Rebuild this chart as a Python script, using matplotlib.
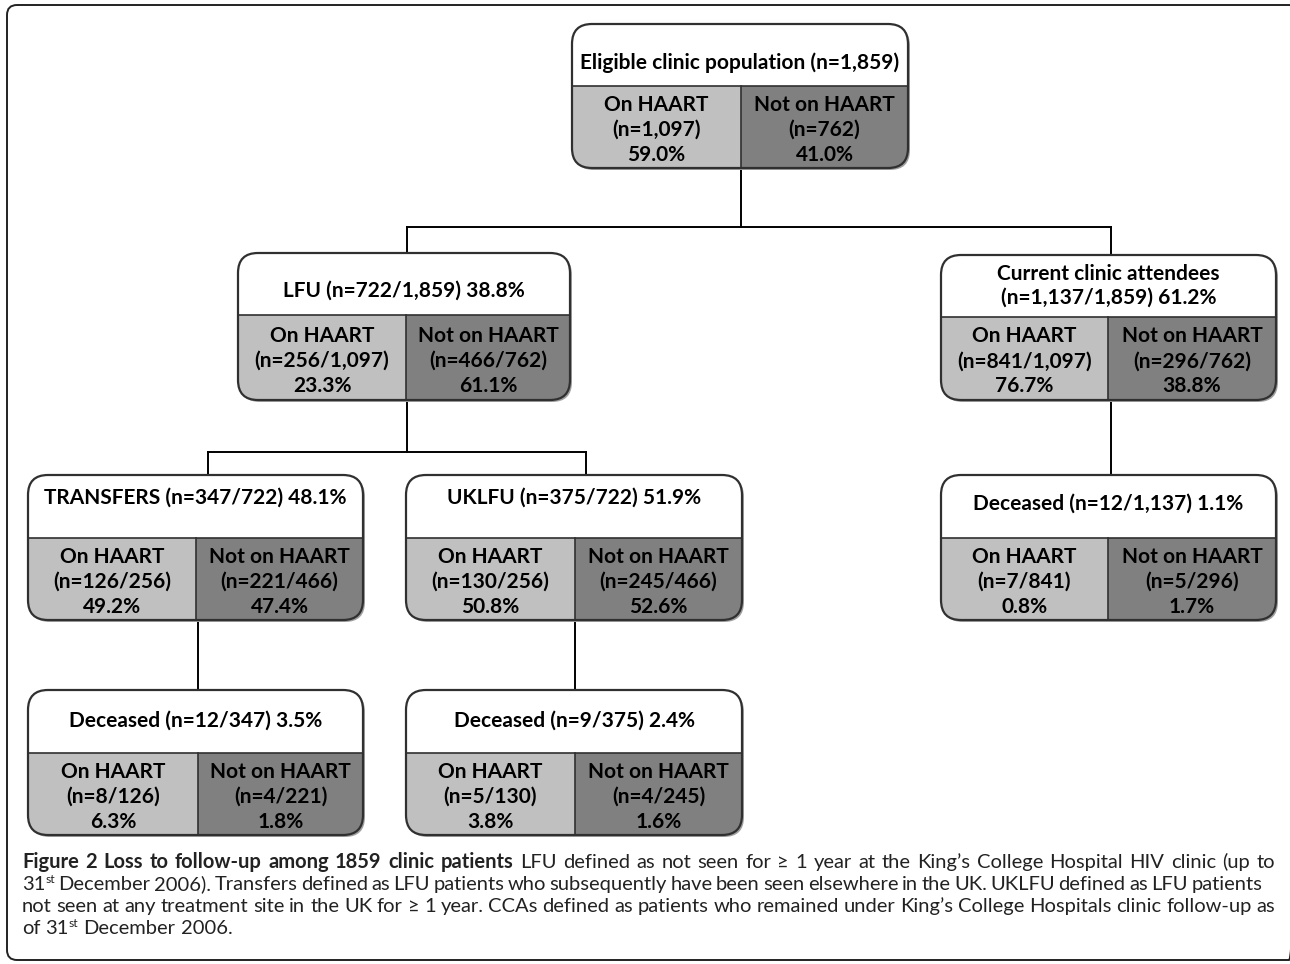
import matplotlib
matplotlib.use("Agg")
import matplotlib.pyplot as plt
from matplotlib.patches import FancyBboxPatch, Rectangle

# ---- chart content ----
titles = ["Eligible clinic population (n=1,859)",
          "LFU (n=722/1,859) 38.8%",
          "Current clinic attendees\n(n=1,137/1,859) 61.2%",
          "TRANSFERS (n=347/722) 48.1%",
          "UKLFU (n=375/722) 51.9%",
          "Deceased (n=12/1,137) 1.1%",
          "Deceased (n=12/347) 3.5%",
          "Deceased (n=9/375) 2.4%"]
on_n = ["(n=1,097)", "(n=256/1,097)", "(n=841/1,097)", "(n=126/256)",
        "(n=130/256)", "(n=7/841)", "(n=8/126)", "(n=5/130)"]
on_pct = ["59.0%", "23.3%", "76.7%", "49.2%", "50.8%", "0.8%", "6.3%", "3.8%"]
off_n = ["(n=762)", "(n=466/762)", "(n=296/762)", "(n=221/466)",
         "(n=245/466)", "(n=5/296)", "(n=4/221)", "(n=4/245)"]
off_pct = ["41.0%", "61.1%", "38.8%", "47.4%", "52.6%", "1.7%", "1.8%", "1.6%"]
on_label = "On HAART"
off_label = "Not on HAART"

caption_lines = [
    "**Figure **2 **Loss **to **follow-up **among **1859 **clinic **patients LFU defined as not seen for ≥ 1 year at the King’s College Hospital HIV clinic (up to",
    "31^st December 2006). Transfers defined as LFU patients who subsequently have been seen elsewhere in the UK. UKLFU defined as LFU patients",
    "not seen at any treatment site in the UK for ≥ 1 year. CCAs defined as patients who remained under King’s College Hospitals clinic follow-up as",
    "of 31^st December 2006.",
]

# ---- layout (pixels) : x0, y0, x1, y1, y_divider, x_split, title_y ----
layout = [
    (572, 24, 908, 168, 86, 741, 63),
    (238, 253, 570, 400, 315, 406, 291),
    (941, 255, 1276, 400, 317, 1108, 286),
    (28, 475, 363, 620, 538, 196, 498),
    (406, 475, 742, 620, 538, 575, 498),
    (941, 475, 1276, 620, 538, 1108, 504),
    (28, 690, 363, 835, 753, 198, 721),
    (406, 690, 742, 835, 753, 575, 721),
]
connectors = [
    [(741, 168), (741, 227)], [(407, 227), (1111, 227)],
    [(407, 227), (407, 253)], [(1111, 227), (1111, 255)],
    [(407, 400), (407, 452)], [(208, 452), (586, 452)],
    [(208, 452), (208, 475)], [(586, 452), (586, 475)],
    [(1111, 400), (1111, 475)],
    [(198, 620), (198, 690)], [(575, 620), (575, 690)],
]

LIGHT = "#c0c0c0"
DARK = "#808080"
EDGE = "#303030"
BOX_FONT = "Lato"
CAP_FONT = "Lato"
BOX_SIZE = 15

fig = plt.figure(figsize=(12.9, 9.64), dpi=100)
ax = fig.add_axes([0, 0, 1, 1])
ax.set_xlim(0, 1290)
ax.set_ylim(964, 0)
ax.axis("off")

# outer frame
ax.add_patch(FancyBboxPatch((7, 5), 1292, 955, boxstyle="round,pad=0,rounding_size=10",
                            fc="none", ec="#222222", lw=1.4))

for seg in connectors:
    (xa, ya), (xb, yb) = seg
    ax.plot([xa, xb], [ya, yb], color="black", lw=1.4, zorder=1)

for i, (x0, y0, x1, y1, yd, xs, ty) in enumerate(layout):
    w, h = x1 - x0, y1 - y0
    shadow = FancyBboxPatch((x0 + 2, y0 + 2), w, h, boxstyle="round,pad=0,rounding_size=20",
                            fc="#a0a0a0", ec="none", zorder=2)
    ax.add_patch(shadow)
    outline = FancyBboxPatch((x0, y0), w, h, boxstyle="round,pad=0,rounding_size=20",
                             fc="white", ec="none", zorder=3)
    ax.add_patch(outline)
    for rx, ry, rw, rh, c in [(x0, yd, xs - x0, y1 - yd, LIGHT), (xs, yd, x1 - xs, y1 - yd, DARK)]:
        r = Rectangle((rx, ry), rw, rh, fc=c, ec="none", zorder=4)
        ax.add_patch(r)
        r.set_clip_path(outline)
    ax.plot([x0, x1], [yd, yd], color=EDGE, lw=1.2, zorder=5)
    ax.plot([xs, xs], [yd, y1], color=EDGE, lw=1.2, zorder=5)
    ax.add_patch(FancyBboxPatch((x0, y0), w, h, boxstyle="round,pad=0,rounding_size=20",
                                fc="none", ec=EDGE, lw=1.6, zorder=6))
    ax.text((x0 + x1) / 2, ty, titles[i], ha="center", va="center", fontsize=BOX_SIZE,
            fontweight="bold", family=BOX_FONT, linespacing=1.25, zorder=7)
    yc = (yd + y1) / 2 + 3
    for k, (la, lb) in enumerate([(on_label, off_label), (on_n[i], off_n[i]),
                                   (on_pct[i], off_pct[i])]):
        yy = yc + (k - 1) * 25
        ax.text((x0 + xs) / 2, yy, la, ha="center", va="center", fontsize=BOX_SIZE,
                fontweight="bold", family=BOX_FONT, zorder=7)
        ax.text((xs + x1) / 2, yy, lb, ha="center", va="center", fontsize=BOX_SIZE,
                fontweight="bold", family=BOX_FONT, zorder=7)

# ---- caption, justified word by word ----
renderer = fig.canvas.get_renderer()
CAP_SIZE = 14.5
line_y = [868, 890, 912, 934]
line_right = [1275, 1262, 1275, None]


def make_word(word, y):
    bold = word.startswith("**")
    word = word.replace("**", "")
    weight = "bold" if bold else "normal"
    pieces = []
    if "^" in word:
        base, sup = word.split("^")
        pieces.append(ax.text(0, y, base, fontsize=CAP_SIZE, family=CAP_FONT, va="baseline",
                              fontweight=weight, color="#222222"))
        pieces.append(ax.text(0, y - 7, sup, fontsize=CAP_SIZE * 0.6, family=CAP_FONT,
                              va="baseline", color="#222222"))
    else:
        pieces.append(ax.text(0, y, word, fontsize=CAP_SIZE, family=CAP_FONT, va="baseline",
                              fontweight=weight, color="#222222"))
    widths = [p.get_window_extent(renderer).width for p in pieces]
    return pieces, widths


for y, right, line in zip(line_y, line_right, caption_lines):
    words = [make_word(t, y) for t in line.split(" ")]
    total = sum(sum(wds) for _, wds in words)
    if right is None:
        gap = 5.0
    else:
        gap = (right - 22 - total) / (len(words) - 1)
    x = 22
    for pieces, wds in words:
        for p, wd in zip(pieces, wds):
            p.set_x(x)
            x += wd
        x += gap

fig.savefig("out.png", dpi=100)
